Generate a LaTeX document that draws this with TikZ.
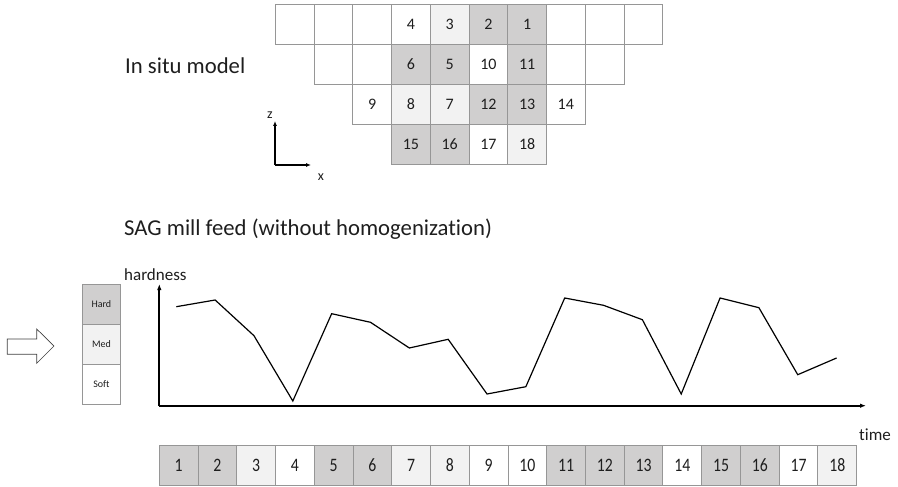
\documentclass[tikz,border=0pt]{standalone}
\usepackage{fontspec}
\setmainfont[Ligatures=NoCommon]{Carlito}
\usetikzlibrary{arrows.meta}
\definecolor{hardc}{RGB}{208,207,207}
\definecolor{medc}{RGB}{242,242,242}
\definecolor{edgec}{RGB}{150,150,150}
\definecolor{txtc}{RGB}{30,30,30}
\tikzset{
  cell/.style={draw=edgec, line width=0.9pt, minimum width=38.74pt, minimum height=40pt, inner sep=0pt, text=txtc},
  H/.style={cell, fill=hardc},
  M/.style={cell, fill=medc},
  S/.style={cell, fill=white},
  gridnum/.style={font=\fontsize{16}{18}\selectfont},
  barnum/.style={font=\fontsize{19}{20}\selectfont},
  legnum/.style={font=\fontsize{10}{12}\selectfont},
  title/.style={anchor=base west, inner sep=0pt, text=txtc, font=\fontsize{22.7}{26}\selectfont},
  label/.style={inner sep=0pt, text=txtc, font=\fontsize{17}{20}\selectfont},
  axis/.style={line width=1.7pt, -{Latex[length=6pt,width=4.5pt]}},
  smallaxis/.style={line width=1.5pt, -{Latex[length=5pt,width=4pt]}},
  chartline/.style={line width=1.2pt, line join=miter},
  blockarrow/.style={draw=black!75, line width=0.7pt, fill=white}
}
\begin{document}
\begin{tikzpicture}[x=1pt, y=-1pt]
\useasboundingbox (0,0) rectangle (898,487);

% ---------- in situ model grid ----------
\foreach \c/\s/\t in {0/S/{},1/S/{},2/S/{},3/S/4,4/M/3,5/H/2,6/H/1,7/S/{},8/S/{},9/S/{}}
  \node[\s, gridnum] (ga\c) at ({275.3+38.74*(\c+0.5)}, 24) {\t};
\foreach \c/\s/\t in {1/S/{},2/S/{},3/H/6,4/H/5,5/S/10,6/H/11,7/S/{},8/S/{}}
  \node[\s, gridnum] (gb\c) at ({275.3+38.74*(\c+0.5)}, 64) {\t};
\foreach \c/\s/\t in {2/S/9,3/M/8,4/M/7,5/H/12,6/H/13,7/S/14}
  \node[\s, gridnum] (gc\c) at ({275.3+38.74*(\c+0.5)}, 104) {\t};
\foreach \c/\s/\t in {3/H/15,4/H/16,5/S/17,6/M/18}
  \node[\s, gridnum] (gd\c) at ({275.3+38.74*(\c+0.5)}, 144) {\t};

\node[title] (insitu) at (125,73.3) {In situ model};

% small axes
\coordinate (so) at (275,165);
\coordinate (sz) at (275,121);
\coordinate (sx) at (311,165);
\draw[smallaxis] (so) -- (sz);
\draw[smallaxis] (so) -- (sx);
\node[inner sep=0pt, text=txtc, font=\fontsize{14}{16}\selectfont] (zl) at (270,115) {z};
\node[inner sep=0pt, text=txtc, font=\fontsize{14}{16}\selectfont] (xl) at (321,177) {x};

\node[title] (sag) at (124,235.2) {SAG mill feed (without homogenization)};

% ---------- block arrow ----------
\draw[blockarrow] (7.3,339) -- (36.7,339) -- (36.7,329) -- (54,346) -- (36.7,363.3) -- (36.7,354.3) -- (7.3,354.3) -- cycle;

% ---------- legend ----------
\node[H, legnum] (lh) at (101.4,304.5) {Hard};
\node[M, legnum] (lm) at (101.4,344.5) {Med};
\node[S, legnum] (ls) at (101.4,384.5) {Soft};

% ---------- chart ----------
\coordinate (o) at (159.3,405.7);
\coordinate (yt) at (159.3,284);
\coordinate (xe) at (866,405.7);
\draw[axis] (o) -- (yt);
\draw[axis] (o) -- (xe);
\node[label, anchor=base west] (hard) at (124,280) {hardness};
\node[label, anchor=base west] (time) at (859,440) {time};

\foreach \i/\v in {1/306.7,2/300,3/335.7,4/401,5/313.7,6/322.3,7/348,8/339.3,9/394,10/386.7,11/298,12/305.3,13/319.7,14/394,15/298,16/307.7,17/374.7,18/358}
  \coordinate (p\i) at ({176.3+38.84*(\i-1)}, \v);
\draw[chartline] (p1) \foreach \i in {2,...,18}{ -- (p\i)};

% ---------- time sequence ----------
\foreach \i/\s in {1/H,2/H,3/M,4/S,5/H,6/H,7/M,8/M,9/S,10/S,11/H,12/H,13/H,14/S,15/H,16/H,17/S,18/M}
  \node[\s, barnum] (b\i) at ({159.3+38.74*(\i-0.5)}, 465) {\scalebox{0.83}[1]{\i}};
\end{tikzpicture}
\end{document}
